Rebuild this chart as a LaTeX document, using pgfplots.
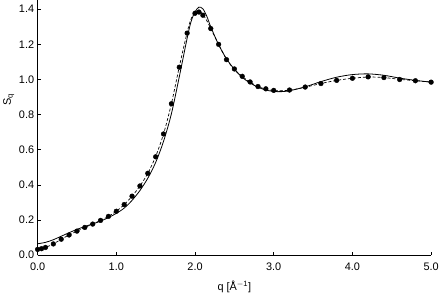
\documentclass[border=0pt]{standalone}
\usepackage{pgfplots}
\pgfplotsset{compat=1.18}
\usepackage{fontspec}
\setmainfont{Liberation Sans}
\begin{document}
\begin{tikzpicture}
\begin{axis}[
  scale only axis, width=397pt, height=257pt,
  xmin=0, xmax=5, ymin=0, ymax=1.45,
  axis x line=bottom, axis y line=left,
  axis line style={-, line width=0.9pt},
  tick align=inside, major tick length=3pt,
  tick style={black, line width=0.6pt},
  xtick={0,1,2,3,4,5}, ytick={0,0.2,0.4,0.6,0.8,1.0,1.2,1.4},
  /pgf/number format/assume math mode=true,
  xticklabel style={yshift=-4pt, /pgf/number format/.cd, fixed, fixed zerofill, precision=1},
  yticklabel style={/pgf/number format/.cd, fixed, fixed zerofill, precision=1},
  tick label style={font=\fontsize{11}{13}\selectfont},
  label style={font=\fontsize{11}{13}\selectfont},
  xlabel={q [Å\textsuperscript{$-$1}]},
  ylabel={S\textsubscript{q}},
  xlabel style={yshift=-4pt},
  ylabel style={at={(ticklabel cs:0.61)}, yshift=-2pt},
  clip=false,
]
% solid line
\addplot[black, line width=0.8pt, smooth, tension=0.5] coordinates {
(0,0.065) (0.1,0.073) (0.2,0.088) (0.3,0.108) (0.4,0.128) (0.5,0.147) (0.6,0.163) (0.7,0.178) (0.8,0.194) (0.9,0.214) (1.0,0.238) (1.1,0.268) (1.2,0.312) (1.3,0.368) (1.4,0.438) (1.5,0.528) (1.6,0.648) (1.7,0.805) (1.8,1.015) (1.9,1.235) (1.95,1.33) (2.0,1.385) (2.05,1.412) (2.1,1.402) (2.15,1.36) (2.2,1.30) (2.3,1.198) (2.4,1.118) (2.5,1.058) (2.6,1.012) (2.7,0.980) (2.8,0.956) (2.9,0.940) (3.0,0.932) (3.1,0.931) (3.2,0.936) (3.4,0.958) (3.6,0.988) (3.8,1.013) (4.0,1.028) (4.2,1.032) (4.4,1.024) (4.6,1.008) (4.8,0.995) (5.0,0.985)
};
% dashed line
\addplot[black, line width=0.7pt, dash pattern=on 3pt off 2pt, smooth, tension=0.5] coordinates {
(0,0.033) (0.05,0.037) (0.1,0.044) (0.2,0.064) (0.3,0.091) (0.4,0.115) (0.5,0.137) (0.6,0.158) (0.7,0.177) (0.8,0.198) (0.9,0.221) (1.0,0.250) (1.1,0.288) (1.2,0.336) (1.3,0.394) (1.4,0.466) (1.5,0.562) (1.6,0.690) (1.7,0.862) (1.8,1.072) (1.9,1.268) (1.95,1.345) (2.0,1.384) (2.05,1.392) (2.1,1.370) (2.15,1.335) (2.2,1.290) (2.3,1.200) (2.4,1.115) (2.5,1.058) (2.6,1.017) (2.7,0.985) (2.8,0.960) (2.9,0.945) (3.0,0.937) (3.2,0.939) (3.4,0.956) (3.6,0.977) (3.8,0.995) (4.0,1.007) (4.2,1.014) (4.4,1.011) (4.6,1.001) (4.8,0.993) (5.0,0.985)
};
% dots
\addplot[only marks, mark=*, mark size=2.4pt, black] coordinates {
(0,0.033) (0.05,0.037) (0.1,0.044) (0.2,0.064) (0.3,0.091) (0.4,0.115) (0.5,0.137) (0.6,0.158) (0.7,0.177) (0.8,0.198) (0.9,0.221) (1.0,0.250) (1.1,0.288) (1.2,0.336) (1.3,0.394) (1.4,0.466) (1.5,0.560) (1.6,0.690) (1.7,0.862) (1.8,1.070) (1.9,1.264) (2.0,1.377) (2.05,1.384) (2.1,1.366) (2.2,1.290) (2.3,1.200) (2.4,1.113) (2.5,1.060) (2.6,1.018) (2.7,0.986) (2.8,0.960) (2.9,0.947) (3.0,0.938) (3.2,0.940) (3.4,0.957) (3.6,0.977) (3.8,0.995) (4.0,1.007) (4.2,1.015) (4.4,1.011) (4.6,1.000) (4.8,0.993) (5.0,0.985)
};
\end{axis}
\end{tikzpicture}
\end{document}
